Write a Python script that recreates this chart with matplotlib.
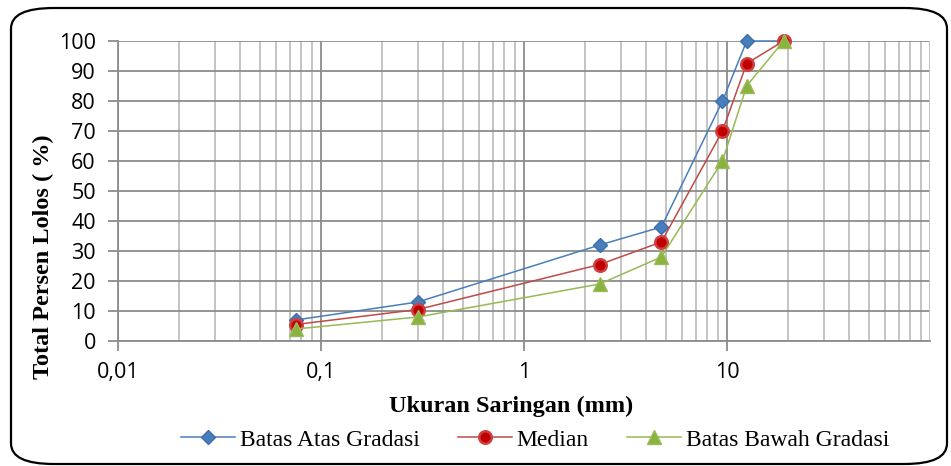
import matplotlib.pyplot as plt
from matplotlib.patches import FancyBboxPatch
from matplotlib.ticker import LogLocator, NullFormatter, FixedLocator

# sieve sizes (mm) and percent passing
ukuran = [0.075, 0.3, 2.36, 4.75, 9.5, 12.5, 19]
batas_atas = [7, 13, 32, 38, 80, 100, 100]
median = [5.5, 10.5, 25.5, 33, 70, 92.5, 100]
batas_bawah = [4, 8, 19, 28, 60, 85, 100]

x_ticks = [0.01, 0.1, 1, 10]
x_tick_labels = ['0,01', '0,1', '1', '10']
y_ticks = [0, 10, 20, 30, 40, 50, 60, 70, 80, 90, 100]

fig = plt.figure(figsize=(9.51, 4.66), dpi=100)
ax = fig.add_axes([118 / 951, 1 - 341 / 466, (930 - 118) / 951, 300 / 466])

# rounded outer border
border = FancyBboxPatch((11 / 951, 2 / 466), 936 / 951, 456 / 466,
                        boxstyle='round,pad=0,rounding_size=0.045',
                        transform=fig.transFigure, fill=False,
                        edgecolor='black', linewidth=1.6, mutation_aspect=466 / 951 * 2)
fig.patches.append(border)

ax.plot(ukuran, batas_atas, color='#4a7ebb', lw=1.1, marker='D', ms=7.5,
        mfc='#4a7ebb', mec='#3c6fb0', label='Batas Atas Gradasi', zorder=5, clip_on=False)
ax.plot(ukuran, median, color='#be4b48', lw=1.1, marker='o', ms=9,
        mfc='#c00000', mec='#d04040', mew=1.8, label='Median', zorder=5, clip_on=False)
ax.plot(ukuran, batas_bawah, color='#98b954', lw=1.1, marker='^', ms=9.5,
        mfc='#8ab23e', mec='#9bbb59', label='Batas Bawah Gradasi', zorder=5, clip_on=False)

ax.set_xscale('log')
ax.set_xlim(0.01, 100)
ax.set_ylim(0, 100)

ax.xaxis.set_major_locator(FixedLocator(x_ticks))
ax.set_xticklabels(x_tick_labels)
ax.xaxis.set_minor_locator(LogLocator(base=10, subs=range(2, 10)))
ax.xaxis.set_minor_formatter(NullFormatter())
ax.set_yticks(y_ticks)

ax.grid(True, which='major', color='#8c8c8c', lw=1.3)
ax.grid(True, which='minor', axis='x', color='#bfbfbf', lw=1.3)
ax.axvline(100, color='#bfbfbf', lw=1.3)
ax.set_axisbelow(True)

for s in ['top', 'right']:
    ax.spines[s].set_visible(False)
ax.spines['left'].set_color('#8c8c8c')
ax.spines['bottom'].set_color('#8c8c8c')
ax.spines['left'].set_linewidth(1.3)
ax.spines['bottom'].set_linewidth(1.3)

ax.tick_params(axis='y', which='major', length=7, width=1.3, color='#8c8c8c',
               labelsize=15.5, pad=9)
ax.tick_params(axis='x', which='major', length=7, width=1.3, color='#8c8c8c',
               labelsize=15.5, pad=8)
ax.tick_params(axis='x', which='minor', length=0)
for lab in ax.get_xticklabels() + ax.get_yticklabels():
    lab.set_family('Open Sans')

ax.set_xlabel('Ukuran Saringan (mm)', family='Liberation Serif', fontweight='bold',
              fontsize=17.5)
ax.xaxis.set_label_coords(0.484, -0.183)
ax.set_ylabel('Total Persen Lolos ( %)', family='Liberation Serif', fontweight='bold',
              fontsize=17.5)
ax.yaxis.set_label_coords(-0.079, 0.28)

leg = fig.legend(loc='center', bbox_to_anchor=(535 / 951, 1 - 440 / 466), ncol=3,
                 frameon=False, prop={'family': 'Liberation Serif', 'size': 17},
                 handlelength=2.3, columnspacing=1.6, handletextpad=0.2)

fig.savefig('out.png', dpi=100)
